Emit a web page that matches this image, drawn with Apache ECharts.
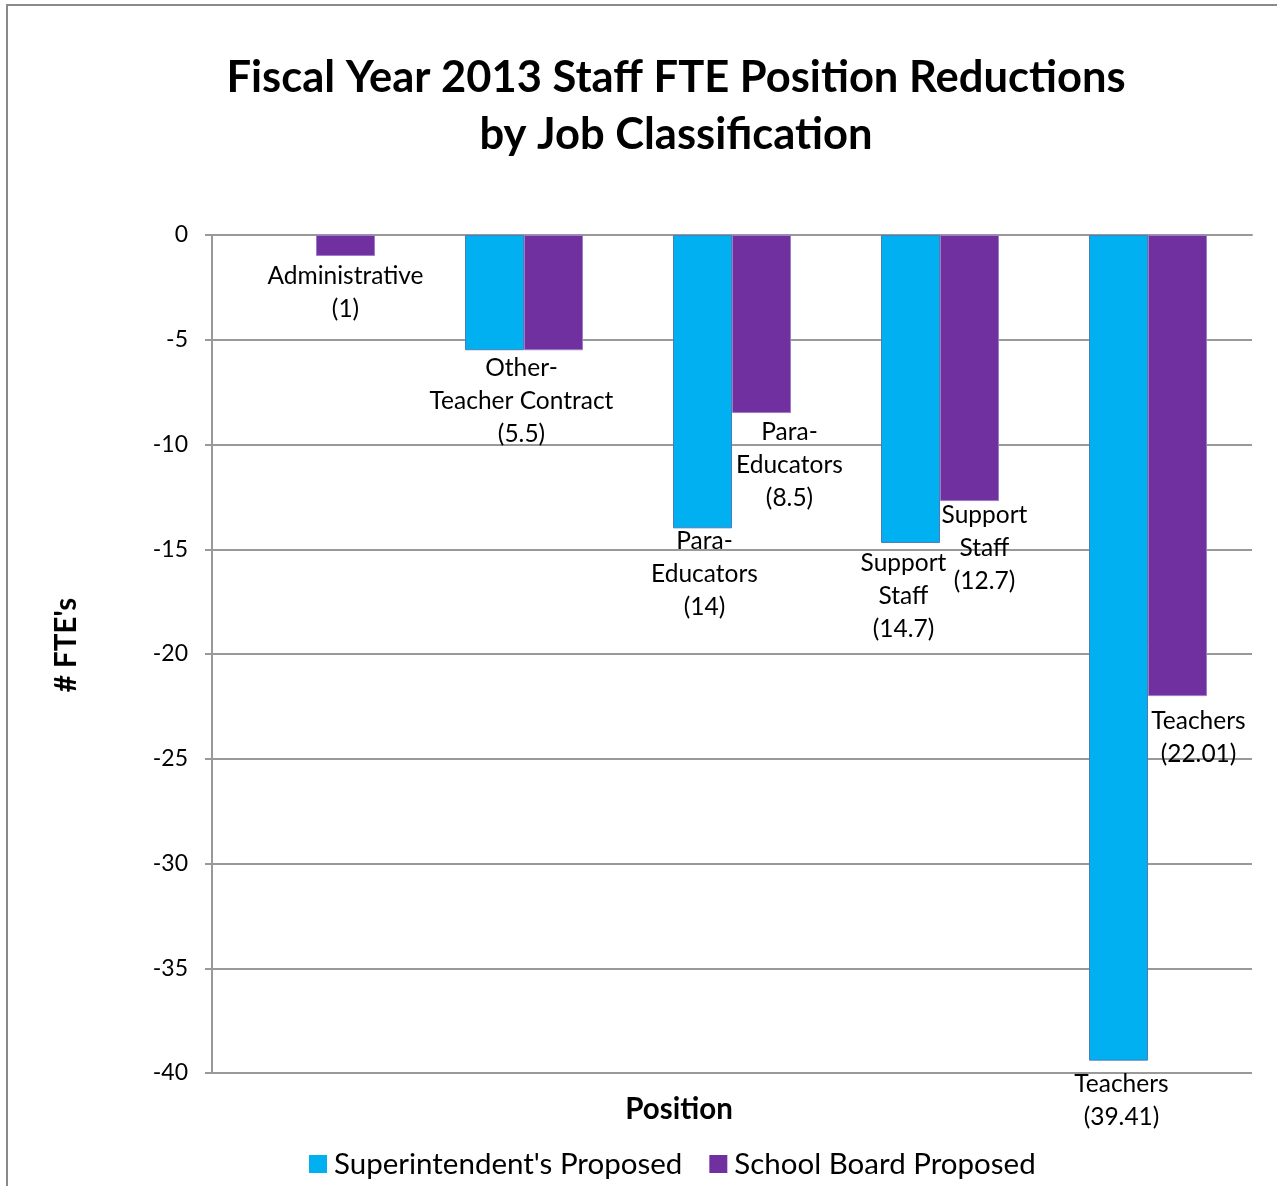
<!DOCTYPE html>
<html>
<head>
<meta charset="utf-8">
<title>Fiscal Year 2013 Staff FTE Position Reductions</title>
<script src="https://cdn.jsdelivr.net/npm/echarts@6/dist/echarts.min.js"></script>
<style>
  html, body { margin: 0; padding: 0; background: #fff; }
  #chart { width: 1277px; height: 1186px; }
</style>
</head>
<body>
<div id="chart"></div>
<script>
// Job classifications (label text shown under the bars)
const categories = ['Administrative', 'Other-\nTeacher Contract', 'Para-\nEducators', 'Support\nStaff', 'Teachers'];
// FTE reductions (negative = positions cut)
const superintendentValues = [0, -5.5, -14, -14.7, -39.41];
const boardValues = [-1, -5.5, -8.5, -12.7, -22.01];
const seriesNames = ["Superintendent's Proposed", 'School Board Proposed'];
const yTicks = { min: -40, max: 0, step: 5 };

// which bars carry a data label, and how each label is nudged off its bar
const superLabelShown = [false, true, true, true, true];
const boardLabelShown = [true, false, true, true, true];
const superLabelOffset = [[0, 0], [27, 1.5], [2, -3.5], [-7, 3.5], [3, 6.5]];
const boardLabelOffset = [[0, 3.5], [0, 0], [28, 2.5], [15, -2.5], [21, 8.5]];

const FONT = 'Lato, "Open Sans", sans-serif';
const BLUE = '#00B0F0';
const PURPLE = '#7030A0';

function labelText(p) {
  return p.name + '\n(' + Math.abs(p.value) + ')';
}

function buildData(values, shown, offsets, border) {
  return values.map((v, i) => ({
    value: v,
    itemStyle: v === 0 ? { borderWidth: 0 } : { borderColor: border, borderWidth: 1 },
    label: {
      show: shown[i],
      position: 'outside',
      distance: 0,
      offset: offsets[i],
      formatter: labelText,
      fontFamily: FONT,
      fontSize: 24.5,
      lineHeight: 33,
      color: '#000',
      align: 'center'
    }
  }));
}

const chart = echarts.init(document.getElementById('chart'), null, { renderer: 'canvas' });

chart.setOption({
  backgroundColor: '#fff',
  animation: false,
  title: [
    {
      text: 'Fiscal Year 2013 Staff FTE Position Reductions\nby Job Classification',
      left: 671,
      top: 44,
      textAlign: 'center',
      textStyle: {
        fontFamily: FONT,
        fontWeight: 'bold',
        fontSize: 43.5,
        lineHeight: 57,
        color: '#000'
      }
    },
    {
      text: 'Position',
      left: 674,
      top: 1089,
      textAlign: 'center',
      textStyle: { fontFamily: FONT, fontWeight: 'bold', fontSize: 29.5, color: '#000' }
    }
  ],
  legend: {
    data: seriesNames,
    left: 304,
    top: 1144,
    itemWidth: 18,
    itemHeight: 18,
    itemGap: 27,
    icon: 'rect',
    textStyle: { fontFamily: FONT, fontSize: 29.5, color: '#000', padding: [0, 0, 0, 2] }
  },
  grid: { left: 212, right: 25, top: 235, bottom: 113, containLabel: false },
  xAxis: {
    type: 'category',
    data: categories,
    axisLine: { show: true, onZero: true, lineStyle: { color: '#999', width: 2 } },
    axisTick: { show: false },
    axisLabel: { show: false },
    splitLine: { show: false }
  },
  yAxis: {
    type: 'value',
    min: yTicks.min,
    max: yTicks.max,
    interval: yTicks.step,
    axisLine: { show: true, lineStyle: { color: '#999', width: 2 } },
    axisTick: { show: true, length: 7, lineStyle: { color: '#999', width: 2 } },
    axisLabel: { fontFamily: FONT, fontSize: 23, color: '#000', margin: 24 },
    splitLine: { show: true, lineStyle: { color: '#999', width: 2 } }
  },
  series: [
    {
      name: seriesNames[0],
      type: 'bar',
      barWidth: 59,
      barGap: '0%',
      itemStyle: { color: BLUE },
      data: buildData(superintendentValues, superLabelShown, superLabelOffset, '#4A7EBB'),
      z: 3
    },
    {
      name: seriesNames[1],
      type: 'bar',
      barWidth: 59,
      barGap: '0%',
      itemStyle: { color: PURPLE },
      data: buildData(boardValues, boardLabelShown, boardLabelOffset, '#9C7CC4'),
      z: 3
    }
  ],
  graphic: [
    {
      type: 'rect',
      shape: { x: 7, y: 5, width: 1400, height: 1400 },
      style: { fill: 'none', stroke: '#8a8a8a', lineWidth: 2 },
      silent: true
    },
    {
      // vertical axis title
      type: 'text',
      x: 66,
      y: 645,
      rotation: Math.PI / 2,
      style: {
        text: "# FTE's",
        fontFamily: FONT,
        fontWeight: 'bold',
        fontSize: 29.5,
        fill: '#000',
        align: 'center',
        verticalAlign: 'middle'
      },
      silent: true
    }
  ]
});
</script>
</body>
</html>
